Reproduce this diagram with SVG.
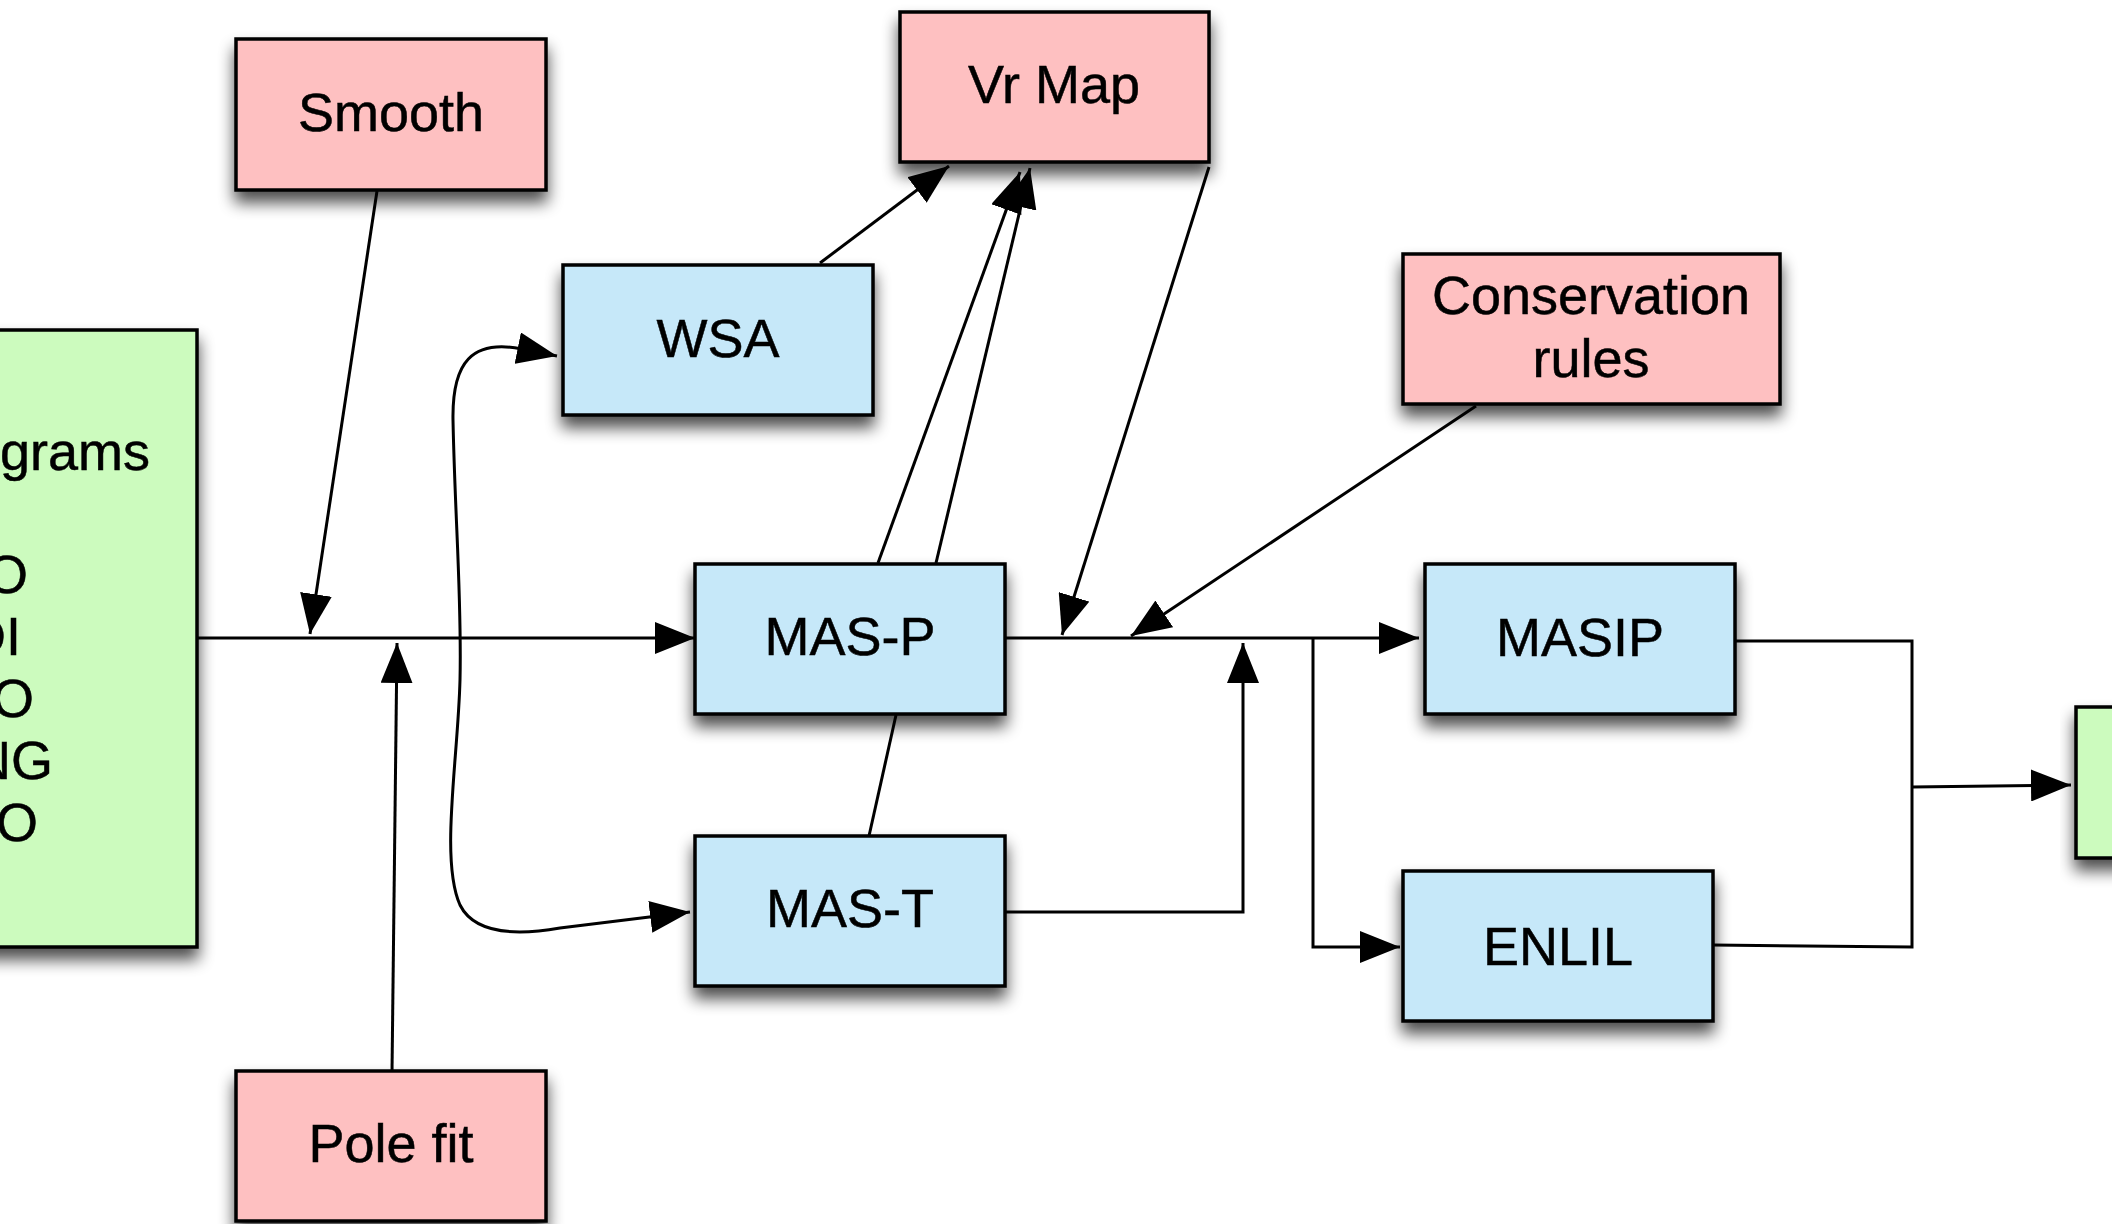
<svg xmlns="http://www.w3.org/2000/svg" width="2112" height="1224" viewBox="0 0 2112 1224">
<style>
.box{stroke:#000;stroke-width:3.5}
.pink{fill:#FEC0C1}
.blue{fill:#C6E8F9}
.green{fill:#CCFBBE}
.lbl{font-family:"Liberation Sans",Arial,Helvetica,sans-serif;font-size:54px;fill:#000;stroke:#000;stroke-width:0.5;text-anchor:middle}
.lft{text-anchor:end}
.con{fill:none;stroke:#000;stroke-width:3}
.arr{marker-end:url(#ah)}
</style>
<defs>
<filter id="sh" x="-20%" y="-20%" width="140%" height="150%">
<feGaussianBlur in="SourceAlpha" stdDeviation="8"/>
<feOffset dx="0" dy="11" result="b"/>
<feComponentTransfer><feFuncA type="linear" slope="0.7"/></feComponentTransfer>
<feMerge><feMergeNode/><feMergeNode in="SourceGraphic"/></feMerge>
</filter>
<marker id="ah" markerUnits="userSpaceOnUse" markerWidth="42" markerHeight="32" refX="40" refY="16" orient="auto">
<path d="M0,0 L40,16 L0,32 z" fill="#000"/>
</marker>
<marker id="ahs" markerUnits="userSpaceOnUse" markerWidth="42" markerHeight="32" refX="40" refY="16" orient="auto-start-reverse">
<path d="M0,0 L40,16 L0,32 z" fill="#000"/>
</marker>
</defs>
<rect width="2112" height="1224" fill="#fff"/>

<g id="connectors">
<path class="con arr" d="M197,638 L695,638"/>
<path class="con arr" d="M377,191 L310,634"/>
<path class="con arr" d="M392,1072 L397,643"/>
<path class="con" style="marker-start:url(#ahs);marker-end:url(#ahs)" d="M557,356 L522,349 C472,339 452,362 453,420 C455,520 462,600 460,680 C458,760 440,860 460,905 C475,935 520,935 560,928 L690,912"/>
<path class="con arr" d="M820,263 L949,166"/>
<path class="con arr" d="M878,563 L1020,172"/>
<path class="con arr" d="M936,563 L1030,168"/>
<path class="con" d="M896,715 L869,836"/>
<path class="con arr" d="M1209,167 L1062,635"/>
<path class="con arr" d="M1476,406 L1131,636"/>
<path class="con arr" d="M1005,638 L1419,638"/>
<path class="con arr" d="M1005,912 L1243,912 L1243,643"/>
<path class="con arr" d="M1313,638 L1313,947 L1400,947"/>
<path class="con" d="M1735,641 L1912,641 L1912,947 L1713,945"/>
<path class="con arr" d="M1912,787 L2071,785"/>
</g>

<g id="inputs" filter="url(#sh)">
<rect class="box green" x="-20" y="330" width="217" height="617"/>
</g>
<g id="inputs-text">
<text class="lbl lft" x="150" y="470">ograms</text>
<text class="lbl lft" x="28" y="593">O</text>
<text class="lbl lft" x="21" y="655">DI</text>
<text class="lbl lft" x="34" y="717">O</text>
<text class="lbl lft" x="53" y="779">NG</text>
<text class="lbl lft" x="38" y="841">O</text>
</g>

<g id="smooth">
<rect class="box pink" x="236" y="39" width="310" height="151" filter="url(#sh)"/>
<text class="lbl" x="391" y="131">Smooth</text>
</g>

<g id="vrmap">
<rect class="box pink" x="900" y="12" width="309" height="150" filter="url(#sh)"/>
<text class="lbl" x="1054" y="103">Vr Map</text>
</g>

<g id="wsa">
<rect class="box blue" x="563" y="265" width="310" height="150" filter="url(#sh)"/>
<text class="lbl" x="718" y="357">WSA</text>
</g>

<g id="conservation">
<rect class="box pink" x="1403" y="254" width="377" height="150" filter="url(#sh)"/>
<text class="lbl" x="1591" y="314">Conservation</text>
<text class="lbl" x="1591" y="377">rules</text>
</g>

<g id="masp">
<rect class="box blue" x="695" y="564" width="310" height="150" filter="url(#sh)"/>
<text class="lbl" x="850" y="655">MAS-P</text>
</g>

<g id="mast">
<rect class="box blue" x="695" y="836" width="310" height="150" filter="url(#sh)"/>
<text class="lbl" x="850" y="927">MAS-T</text>
</g>

<g id="masip">
<rect class="box blue" x="1425" y="564" width="310" height="150" filter="url(#sh)"/>
<text class="lbl" x="1580" y="656">MASIP</text>
</g>

<g id="enlil">
<rect class="box blue" x="1403" y="871" width="310" height="150" filter="url(#sh)"/>
<text class="lbl" x="1558" y="965">ENLIL</text>
</g>

<g id="polefit">
<rect class="box pink" x="236" y="1071" width="310" height="150" filter="url(#sh)"/>
<text class="lbl" x="391" y="1162">Pole fit</text>
</g>

<g id="output">
<rect class="box green" x="2076" y="707" width="80" height="151" filter="url(#sh)"/>
</g>
</svg>
